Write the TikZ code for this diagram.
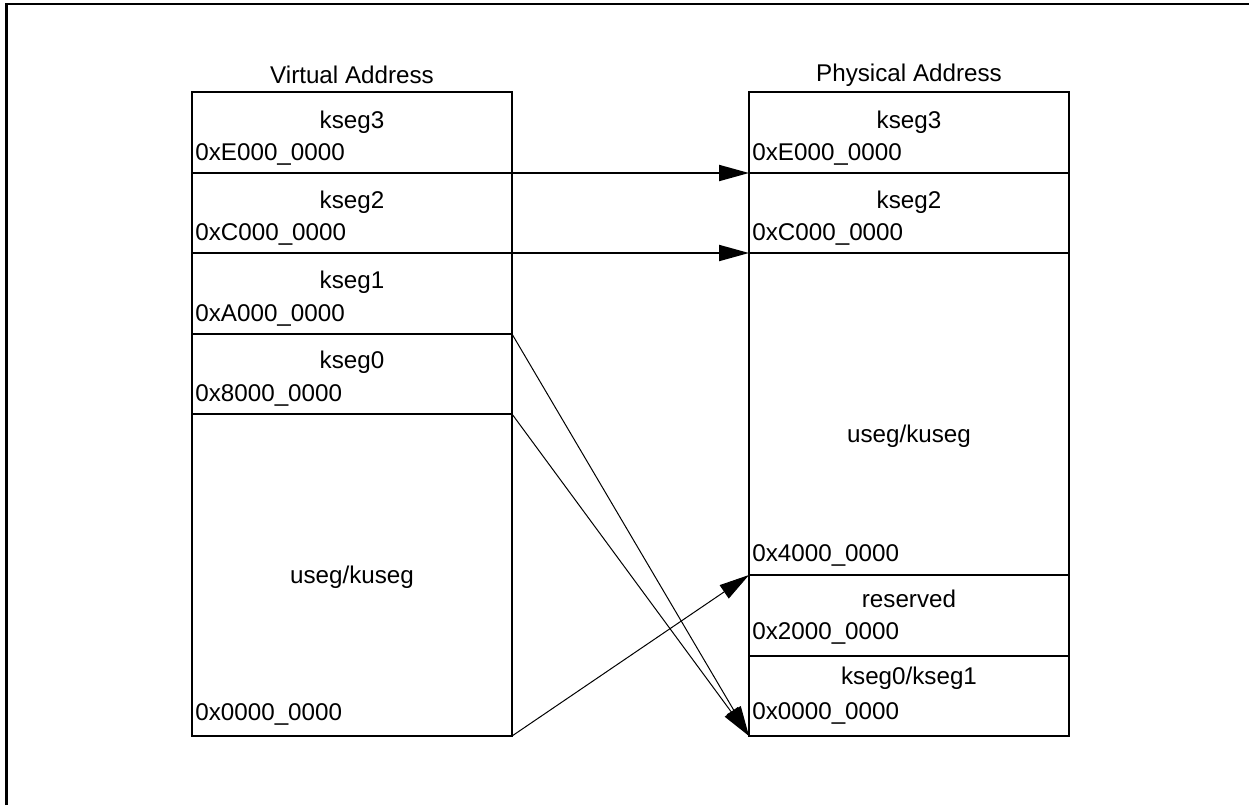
\documentclass[tikz,border=0pt]{standalone}
\usepackage{fontspec}
\setmainfont{Liberation Sans}
\usetikzlibrary{arrows.meta}
\tikzset{
  segb/.style={draw, line width=1pt, rectangle, inner sep=0pt, outer sep=0pt, minimum width=160pt},
  segt/.style={inner sep=0pt, font=\fontsize{12.1}{14}\selectfont},
  sega/.style={inner sep=0pt, anchor=west, font=\fontsize{12.1}{14}\selectfont},
  thickarrow/.style={line width=1pt, -{Triangle[length=15pt,width=8pt]}},
  thinarrow/.style={line width=0.5pt, -{Triangle[length=15pt,width=8pt]}},
}
% name, xleft, ytop, ybot, title, titley, addr, addry
\newcommand\segbox[8]{%
  \node[segb, minimum height={(#4-#3)*0.5pt}] (#1) at ({#2+160},{(#3+#4)/2}) {};
  \node[segt] (#1t) at ({#2+160},#6) {#5};
  \node[sega] (#1a) at ({#2+3},#8) {#7};
}
\begin{document}
\begin{tikzpicture}[x=0.5pt,y=-0.5pt]
\useasboundingbox (0,0) rectangle (1249,805);
% frame
\coordinate (fa) at (6.5,805);
\coordinate (fb) at (6.5,4);
\coordinate (fc) at (1249,4);
\draw[line width=1.2pt] (fa) -- (fb) -- (fc);
% titles
\node[segt] (vt) at (352,75) {Virtual Address};
\node[segt] (pt) at (909,75) {Physical Address};
% virtual segments
\segbox{v3}{192}{92}{173}{kseg3}{122}{0xE000\_0000}{154}
\segbox{v2}{192}{173}{253}{kseg2}{202}{0xC000\_0000}{234}
\segbox{v1}{192}{253}{334}{kseg1}{282}{0xA000\_0000}{315}
\segbox{v0}{192}{334}{414}{kseg0}{362}{0x8000\_0000}{395}
\segbox{vu}{192}{414}{736}{useg/kuseg}{577}{0x0000\_0000}{714}
% physical segments
\segbox{p3}{749}{92}{173}{kseg3}{122}{0xE000\_0000}{154}
\segbox{p2}{749}{173}{253}{kseg2}{202}{0xC000\_0000}{234}
\segbox{pu}{749}{253}{575}{useg/kuseg}{436}{0x4000\_0000}{555}
\segbox{pr}{749}{575}{656}{reserved}{599}{0x2000\_0000}{633}
\segbox{pk}{749}{656}{736}{kseg0/kseg1}{678}{0x0000\_0000}{713}
% connectors
\draw[thickarrow] (v3.south east) -- (p3.south west);
\draw[thickarrow] (v2.south east) -- (p2.south west);
\draw[thinarrow] (v0.north east) -- (pk.south west);
\draw[thinarrow] (v0.south east) -- (pk.south west);
\draw[thinarrow] (vu.south east) -- (pr.north west);
\end{tikzpicture}
\end{document}
